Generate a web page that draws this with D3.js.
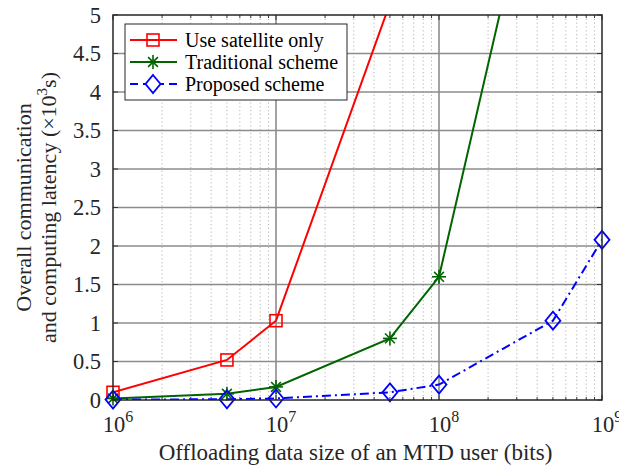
<!DOCTYPE html>
<html>
<head>
<meta charset="utf-8">
<script src="https://cdn.jsdelivr.net/npm/d3@7"></script>
<style>
  body { margin: 0; background: #fff; }
  svg { display: block; font-family: "Liberation Serif", "Times New Roman", serif; }
</style>
</head>
<body>
<svg id="chart" width="619" height="467"></svg>
<script>
// ─── data ─────────────────────────────────────────────────────────────
const dataSizes = [1e6, 5e6, 1e7, 5e7, 1e8, 5e8, 1e9];
const satelliteOnly = [0.10, 0.52, 1.03, 5.15, 10.3, 51.5, 103];
const traditional = [0.02, 0.08, 0.17, 0.80, 1.60, 8.0, 16.0];
const proposed = [0.005, 0.01, 0.02, 0.10, 0.20, 1.03, 2.08];
const yTicks = [0, 0.5, 1, 1.5, 2, 2.5, 3, 3.5, 4, 4.5, 5];
const xExponents = [6, 7, 8, 9];
const seriesNames = ["Use satellite only", "Traditional scheme", "Proposed scheme"];

// ─── layout ───────────────────────────────────────────────────────────
const W = 619, H = 467;
const margin = { top: 15, right: 17, bottom: 67, left: 113 };
const iw = W - margin.left - margin.right;
const ih = H - margin.top - margin.bottom;

const svg = d3.select("#chart");
const g = svg.append("g").attr("transform", `translate(${margin.left},${margin.top})`);

const x = d3.scaleLog().domain([1e6, 1e9]).range([0, iw]);
const y = d3.scaleLinear().domain([0, 5]).range([ih, 0]);

// minor x grid (dotted)
const minorX = [];
[1e6, 1e7, 1e8].forEach(d => { for (let k = 2; k <= 9; k++) minorX.push(d * k); });

g.append("g").selectAll("line").data(minorX).join("line")
  .attr("x1", d => x(d)).attr("x2", d => x(d))
  .attr("y1", 0).attr("y2", ih)
  .attr("stroke", "#b5b5b5").attr("stroke-width", 1)
  .attr("stroke-dasharray", "1.2,2.6");

// major grid
g.append("g").selectAll("line").data(yTicks.slice(1, -1)).join("line")
  .attr("x1", 0).attr("x2", iw)
  .attr("y1", d => y(d)).attr("y2", d => y(d))
  .attr("stroke", "#8c8c8c").attr("stroke-width", 1.6);

g.append("g").selectAll("line").data(xExponents.slice(1, -1)).join("line")
  .attr("x1", d => x(10 ** d)).attr("x2", d => x(10 ** d))
  .attr("y1", 0).attr("y2", ih)
  .attr("stroke", "#8c8c8c").attr("stroke-width", 1.6);

// inward tick marks on all four sides
const tickLen = 5;
const ticksG = g.append("g").attr("stroke", "#333").attr("stroke-width", 1);
yTicks.forEach(v => {
  ticksG.append("line").attr("x1", 0).attr("x2", tickLen).attr("y1", y(v)).attr("y2", y(v));
  ticksG.append("line").attr("x1", iw).attr("x2", iw - tickLen).attr("y1", y(v)).attr("y2", y(v));
});
xExponents.map(e => 10 ** e).concat(minorX).forEach(v => {
  const len = minorX.includes(v) ? 3 : tickLen;
  ticksG.append("line").attr("x1", x(v)).attr("x2", x(v)).attr("y1", ih).attr("y2", ih - len);
  ticksG.append("line").attr("x1", x(v)).attr("x2", x(v)).attr("y1", 0).attr("y2", len);
});

// axis tick labels
g.append("g").selectAll("text").data(yTicks).join("text")
  .attr("x", -12).attr("y", d => y(d)).attr("dy", "0.35em")
  .attr("text-anchor", "end").attr("font-size", 22.5).attr("fill", "#262626")
  .text(d => d);

const xl = g.append("g").selectAll("text").data(xExponents).join("text")
  .attr("x", d => x(10 ** d) + 5).attr("y", ih + 32)
  .attr("text-anchor", "middle").attr("font-size", 22.5).attr("fill", "#262626");
xl.append("tspan").text("10");
xl.append("tspan").attr("dy", -10).attr("font-size", 16).text(d => d);

// axis titles
svg.append("text")
  .attr("x", margin.left + iw / 2 - 2).attr("y", H - 7)
  .attr("text-anchor", "middle").attr("font-size", 23).attr("fill", "#262626")
  .text("Offloading data size of an MTD user (bits)");

const yt = svg.append("text")
  .attr("transform", `translate(0,${margin.top + ih / 2}) rotate(-90)`)
  .attr("text-anchor", "middle").attr("font-size", 22).attr("fill", "#262626");
yt.append("tspan").attr("x", 0).attr("y", 31).text("Overall communication");
const l2 = yt.append("tspan").attr("x", 0).attr("y", 56);
l2.append("tspan").text("and computing latency (×10");
l2.append("tspan").attr("dy", -9).attr("font-size", 15).text("3");
l2.append("tspan").attr("dy", 9).text("s)");

// ─── series ───────────────────────────────────────────────────────────
svg.append("defs").append("clipPath").attr("id", "plot-clip")
  .append("rect").attr("width", iw).attr("height", ih);

const series = [
  { name: seriesNames[0], values: satelliteOnly, color: "#ff0000", dash: null, marker: "square" },
  { name: seriesNames[1], values: traditional, color: "#006400", dash: null, marker: "star" },
  { name: seriesNames[2], values: proposed, color: "#0000ff", dash: "9,4,2,4", marker: "diamond" },
];

const line = d3.line().x(d => x(d[0])).y(d => y(d[1]));

function drawMarker(sel, type, color) {
  if (type === "square") {
    sel.append("rect").attr("x", -6).attr("y", -6).attr("width", 12).attr("height", 12)
      .attr("fill", "none").attr("stroke", color).attr("stroke-width", 1.6);
  } else if (type === "diamond") {
    sel.append("path").attr("d", "M0,-9L7.5,0L0,9L-7.5,0Z")
      .attr("fill", "none").attr("stroke", color).attr("stroke-width", 1.8);
  } else {
    const r = 7;
    const p = [[-r, 0, r, 0], [0, -r, 0, r], [-r * 0.7, -r * 0.7, r * 0.7, r * 0.7], [-r * 0.7, r * 0.7, r * 0.7, -r * 0.7]];
    p.forEach(([a, b, c, d]) => sel.append("line").attr("x1", a).attr("y1", b).attr("x2", c).attr("y2", d)
      .attr("stroke", color).attr("stroke-width", 1.6));
  }
}

const plot = g.append("g").attr("clip-path", "url(#plot-clip)");
series.forEach(s => {
  const pts = dataSizes.map((d, i) => [d, s.values[i]]);
  plot.append("path").datum(pts)
    .attr("d", line).attr("fill", "none")
    .attr("stroke", s.color).attr("stroke-width", 2)
    .attr("stroke-dasharray", s.dash);
});
// markers drawn unclipped so edge markers show fully
series.forEach(s => {
  const pts = dataSizes.map((d, i) => [d, s.values[i]]).filter(p => p[1] <= 5);
  pts.forEach(p => {
    const m = g.append("g").attr("transform", `translate(${x(p[0])},${y(p[1])})`);
    drawMarker(m, s.marker, s.color);
  });
});

// axes box
g.append("rect").attr("width", iw).attr("height", ih)
  .attr("fill", "none").attr("stroke", "#262626").attr("stroke-width", 1.5);

// ─── legend ───────────────────────────────────────────────────────────
const legend = svg.append("g").attr("transform", "translate(125,24)");
legend.append("rect").attr("width", 222).attr("height", 76)
  .attr("fill", "#fff").attr("stroke", "#262626").attr("stroke-width", 1);
series.forEach((s, i) => {
  const ly = 16 + i * 22;
  legend.append("line").attr("x1", 5).attr("x2", 52).attr("y1", ly).attr("y2", ly)
    .attr("stroke", s.color).attr("stroke-width", 2)
    .attr("stroke-dasharray", s.dash ? "8,5" : null);
  if (s.marker === "diamond") {
    legend.append("rect").attr("x", 20).attr("y", ly - 10).attr("width", 16).attr("height", 20).attr("fill", "#fff");
  }
  const m = legend.append("g").attr("transform", `translate(28,${ly})`);
  drawMarker(m, s.marker, s.color);
  legend.append("text").attr("x", 60).attr("y", ly).attr("dy", "0.35em")
    .attr("font-size", 20).attr("fill", "#000").text(s.name);
});
</script>
</body>
</html>
